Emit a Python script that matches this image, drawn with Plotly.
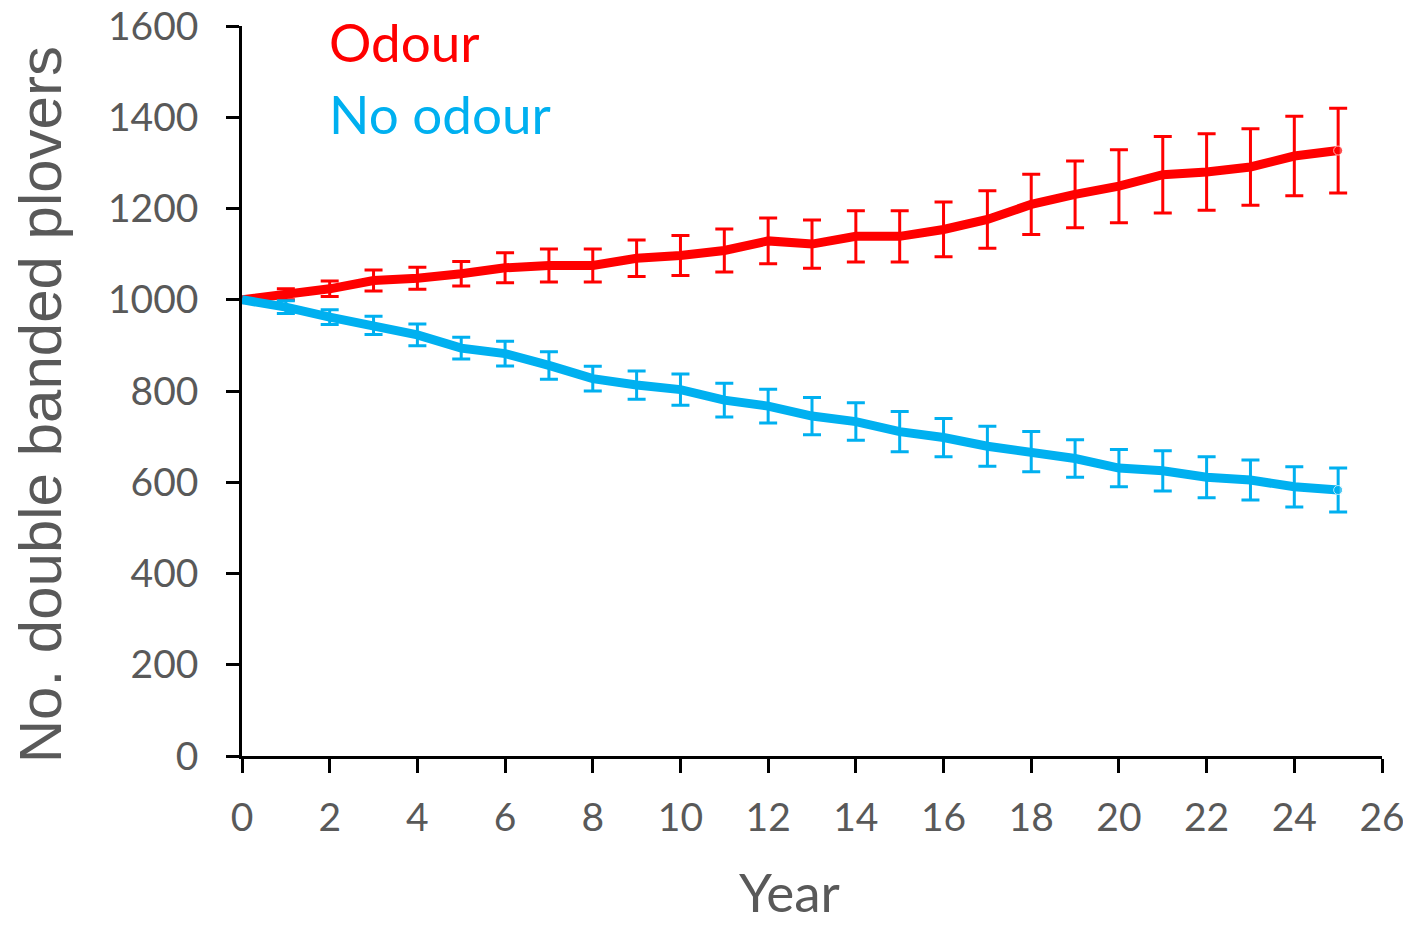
import plotly.graph_objects as go

years = list(range(0, 26))
odour = [1000, 1012, 1024, 1042, 1047, 1057, 1070, 1075, 1075, 1091, 1097, 1108, 1129,
         1122, 1139, 1139, 1154, 1176, 1209, 1231, 1249, 1274, 1280, 1291, 1315, 1327]
odour_err = [0, 12, 17, 23, 24, 27, 33, 36, 36, 40, 44, 47, 50,
             53, 56, 56, 60, 63, 66, 73, 80, 84, 84, 84, 87, 93]
no_odour = [1000, 984, 962, 944, 923, 894, 882, 856, 827, 813, 803, 780, 767,
            745, 733, 711, 698, 679, 667, 652, 631, 625, 611, 605, 590, 583]
no_odour_err = [0, 14, 16, 20, 24, 24, 27, 30, 27, 31, 34, 37, 37,
                41, 41, 44, 42, 44, 44, 41, 41, 44, 45, 44, 44, 48]
y_ticks = [0, 200, 400, 600, 800, 1000, 1200, 1400, 1600]
x_ticks = list(range(0, 27, 2))

RED = "#FF0000"
BLUE = "#00B0F0"
GREY = "#595959"
TICKFONT = dict(family="Lato, Open Sans, sans-serif", size=39, color=GREY)

# round dot only at the final point of each line
end_sizes = [0] * (len(years) - 1) + [9]

fig = go.Figure()
fig.add_trace(go.Scatter(
    x=years, y=odour, mode="lines+markers", name="Odour",
    line=dict(color=RED, width=9),
    marker=dict(color=RED, size=end_sizes),
    error_y=dict(type="data", array=odour_err, visible=True,
                 color=RED, thickness=3, width=9),
))
fig.add_trace(go.Scatter(
    x=years, y=no_odour, mode="lines+markers", name="No odour",
    line=dict(color=BLUE, width=9),
    marker=dict(color=BLUE, size=end_sizes),
    error_y=dict(type="data", array=no_odour_err, visible=True,
                 color=BLUE, thickness=3, width=9),
))

# page body has an 8px margin, so the figure is 8px smaller and margins shifted
fig.update_layout(
    width=1403, height=918,
    margin=dict(l=234, r=29, t=18, b=170, autoexpand=False),
    paper_bgcolor="white", plot_bgcolor="white",
    showlegend=False,
    xaxis=dict(range=[0, 26], tickvals=x_ticks, showgrid=False, zeroline=False,
               showline=True, linecolor="black", linewidth=2.5, automargin=False,
               ticks="outside", ticklen=14, tickwidth=3, tickcolor="black",
               tickfont=TICKFONT, ticklabelstandoff=11, ticklabeloverflow="allow"),
    yaxis=dict(range=[0, 1600], tickvals=y_ticks, showgrid=False, zeroline=False,
               showline=True, linecolor="black", linewidth=2.5, automargin=False,
               ticks="outside", ticklen=13, tickwidth=3, tickcolor="black",
               tickfont=TICKFONT, ticklabelstandoff=20, ticklabeloverflow="allow"),
    annotations=[
        dict(text="No. double banded plovers", xref="paper", yref="paper",
             x=-0.176, y=0.481, textangle=-90, showarrow=False,
             xanchor="center", yanchor="middle",
             font=dict(family="Liberation Sans, Arial, sans-serif", size=60, color=GREY)),
        dict(text="Year", xref="paper", yref="paper",
             x=0.4807, y=(756 - 925) / 730, showarrow=False,
             xanchor="center", yanchor="bottom",
             font=dict(family="Lato, Open Sans, sans-serif", size=53, color=GREY)),
        dict(text="Odour", xref="paper", yref="paper",
             x=0.0746, y=0.9781, showarrow=False,
             xanchor="left", yanchor="middle",
             font=dict(family="Lato, Open Sans, sans-serif", size=53, color=RED)),
        dict(text="No odour", xref="paper", yref="paper",
             x=0.0746, y=0.8808, showarrow=False,
             xanchor="left", yanchor="middle",
             font=dict(family="Lato, Open Sans, sans-serif", size=53, color=BLUE)),
    ],
)

fig.write_html("out.html")
